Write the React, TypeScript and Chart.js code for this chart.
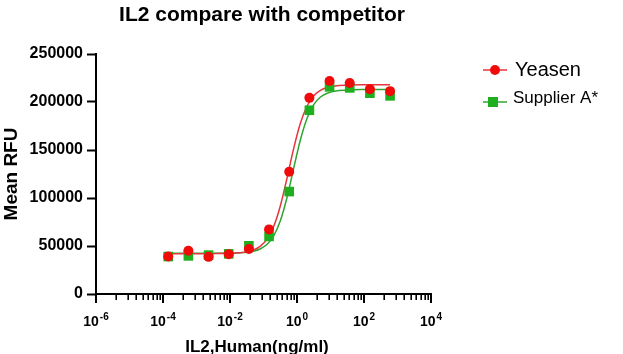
import React, { useEffect, useRef } from 'react';
import { Chart, registerables } from 'chart.js';

Chart.register(...registerables);

const FONT = '"Liberation Sans", Arial, sans-serif';

const chartTitle = 'IL2 compare with competitor';
const xAxisTitle = 'IL2,Human(ng/ml)';
const yAxisTitle = 'Mean RFU';
const seriesNames = ['Yeasen', 'Supplier A*'];

// measured points (ng/ml)
const concentrations = [0.000143, 0.000572, 0.00229, 0.00916, 0.0366, 0.1465, 0.586, 2.344, 9.375, 37.5, 150, 600];
const yeasenValues = [39000, 45000, 38700, 41500, 46800, 67300, 127300, 204300, 221800, 219700, 213400, 211300];
const supplierValues = [39000, 39700, 40500, 41800, 50200, 60000, 106700, 191400, 215800, 214700, 209200, 206400];

// fitted curves
const fitConcentrations = [0.000143, 0.001, 0.00316, 0.01, 0.02, 0.0316, 0.0501, 0.0794, 0.126, 0.2, 0.316, 0.501, 0.794, 1.26, 2.0, 3.16, 5.01, 7.94, 15.8, 39.8, 100, 600];
const yeasenFit = [42000, 42010, 42050, 42310, 42910, 43870, 45780, 49590, 56900, 70160, 91460, 120320, 151500, 177870, 195820, 206560, 212190, 215180, 217010, 217770, 217940, 218000];
const supplierFit = [42500, 42500, 42530, 42660, 42990, 43520, 44630, 46900, 51490, 60280, 75920, 100210, 130900, 160480, 183160, 197310, 205160, 209080, 211720, 212700, 212930, 213000];

const xMajorTicks = [1e-6, 1e-4, 1e-2, 1, 1e2, 1e4];
const xTickExponents = ['-6', '-4', '-2', '0', '2', '4'];
const xMinorMultipliers = [4, 9, 16, 25, 36, 49, 64, 81];
const yTicks = [0, 50000, 100000, 150000, 200000, 250000];

const RED = '#f00a0a';
const GREEN = '#1daf1d';
const RED_LINE = '#e6353c';
const GREEN_LINE = '#2fa52f';

const decorPlugin = {
  id: 'decor',
  afterDraw(chart: any) {
    const { ctx, chartArea, scales } = chart;
    const xs = scales.x;
    ctx.save();
    ctx.fillStyle = '#000';
    ctx.strokeStyle = '#000';

    // title
    ctx.font = `bold 21px ${FONT}`;
    ctx.textAlign = 'center';
    ctx.textBaseline = 'alphabetic';
    ctx.fillText(chartTitle, 262, 21);

    // x ticks
    const yb = chartArea.bottom;
    xMajorTicks.forEach((v, i) => {
      const px = Math.round(xs.getPixelForValue(v));
      ctx.lineWidth = 2;
      ctx.beginPath();
      ctx.moveTo(px, yb);
      ctx.lineTo(px, yb + 9);
      ctx.stroke();
      if (i < xMajorTicks.length - 1) {
        ctx.lineWidth = 1.6;
        xMinorMultipliers.forEach((m) => {
          const mp = Math.round(xs.getPixelForValue(v * m)) + 0.2;
          ctx.beginPath();
          ctx.moveTo(mp, yb);
          ctx.lineTo(mp, yb + 6);
          ctx.stroke();
        });
      }
      ctx.textAlign = 'left';
      ctx.font = `bold 14px ${FONT}`;
      const w1 = ctx.measureText('10').width;
      ctx.font = `bold 10px ${FONT}`;
      const w2 = ctx.measureText(xTickExponents[i]).width;
      const start = px - (w1 + w2 + 1) / 2;
      ctx.font = `bold 14px ${FONT}`;
      ctx.fillText('10', start, 326);
      ctx.font = `bold 10px ${FONT}`;
      ctx.fillText(xTickExponents[i], start + w1 + 1, 320);
    });

    // x title
    ctx.font = `bold 17px ${FONT}`;
    ctx.textAlign = 'center';
    ctx.fillText(xAxisTitle, 257, 352);

    // legend
    ctx.lineWidth = 1.5;
    ctx.strokeStyle = RED_LINE;
    ctx.beginPath();
    ctx.moveTo(483, 70);
    ctx.lineTo(507, 70);
    ctx.stroke();
    ctx.fillStyle = RED;
    ctx.beginPath();
    ctx.arc(495, 70, 5, 0, Math.PI * 2);
    ctx.fill();

    ctx.strokeStyle = GREEN_LINE;
    ctx.beginPath();
    ctx.moveTo(483, 102);
    ctx.lineTo(507, 102);
    ctx.stroke();
    ctx.fillStyle = GREEN;
    ctx.fillRect(488, 97, 10, 10);

    ctx.fillStyle = '#000';
    ctx.textAlign = 'left';
    ctx.font = `20px ${FONT}`;
    ctx.fillText(seriesNames[0], 515, 76);
    ctx.font = `17px ${FONT}`;
    ctx.fillText(seriesNames[1], 513, 103);

    ctx.restore();
  },
};

export default function App() {
  const ref = useRef<HTMLCanvasElement | null>(null);

  useEffect(() => {
    document.body.style.margin = '0';
    const canvas = ref.current;
    if (!canvas) return;
    const toPts = (xs: number[], ys: number[]) => xs.map((x, i) => ({ x, y: ys[i] }));
    const chart = new Chart(canvas, {
      type: 'scatter',
      data: {
        datasets: [
          {
            label: seriesNames[0],
            data: toPts(concentrations, yeasenValues),
            showLine: false,
            pointStyle: 'circle',
            pointRadius: 5,
            pointBackgroundColor: RED,
            pointBorderColor: RED,
            pointBorderWidth: 0,
            order: 0,
          },
          {
            label: seriesNames[1],
            data: toPts(concentrations, supplierValues),
            showLine: false,
            pointStyle: 'rect',
            pointRadius: 6.8,
            pointBackgroundColor: GREEN,
            pointBorderColor: GREEN,
            pointBorderWidth: 0,
            order: 1,
          },
          {
            label: seriesNames[0] + ' fit',
            data: toPts(fitConcentrations, yeasenFit),
            showLine: true,
            pointRadius: 0,
            borderColor: RED_LINE,
            borderWidth: 1.5,
            cubicInterpolationMode: 'monotone',
            order: 2,
          },
          {
            label: seriesNames[1] + ' fit',
            data: toPts(fitConcentrations, supplierFit),
            showLine: true,
            pointRadius: 0,
            borderColor: GREEN_LINE,
            borderWidth: 1.5,
            cubicInterpolationMode: 'monotone',
            order: 3,
          },
        ],
      },
      options: {
        animation: false,
        responsive: false,
        devicePixelRatio: 1,
        layout: { padding: { top: 54, right: 192, left: 0, bottom: 0 } },
        plugins: {
          legend: { display: false },
          title: { display: false },
          tooltip: { enabled: false },
        },
        scales: {
          x: {
            type: 'logarithmic',
            min: 1e-6,
            max: 1e4,
            afterBuildTicks: (s: any) => {
              s.ticks = xMajorTicks.map((v) => ({ value: v }));
            },
            afterFit: (s: any) => {
              s.height = 60;
            },
            ticks: { display: false },
            grid: { display: false },
            border: { display: true, color: '#000', width: 2 },
          },
          y: {
            type: 'linear',
            min: 0,
            max: 250000,
            afterBuildTicks: (s: any) => {
              s.ticks = yTicks.map((v) => ({ value: v }));
            },
            afterFit: (s: any) => {
              s.width = 96;
            },
            ticks: {
              color: '#000',
              font: { family: FONT, size: 16, weight: 'bold' },
              padding: 4,
              callback: (v: any) => String(v),
            },
            grid: {
              display: true,
              drawOnChartArea: false,
              drawTicks: true,
              tickLength: 9,
              tickWidth: 2,
              tickColor: '#000',
              color: '#000',
            },
            border: { display: true, color: '#000', width: 2 },
            title: {
              display: true,
              text: yAxisTitle,
              color: '#000',
              font: { family: FONT, size: 19, weight: 'bold' },
              padding: 0,
            },
          },
        },
      } as any,
      plugins: [decorPlugin],
    });
    return () => chart.destroy();
  }, []);

  return (
    <div style={{ position: 'absolute', left: 0, top: 0, width: 623, height: 354, background: '#fff' }}>
      <canvas ref={ref} width={623} height={354} style={{ display: 'block' }} />
    </div>
  );
}
